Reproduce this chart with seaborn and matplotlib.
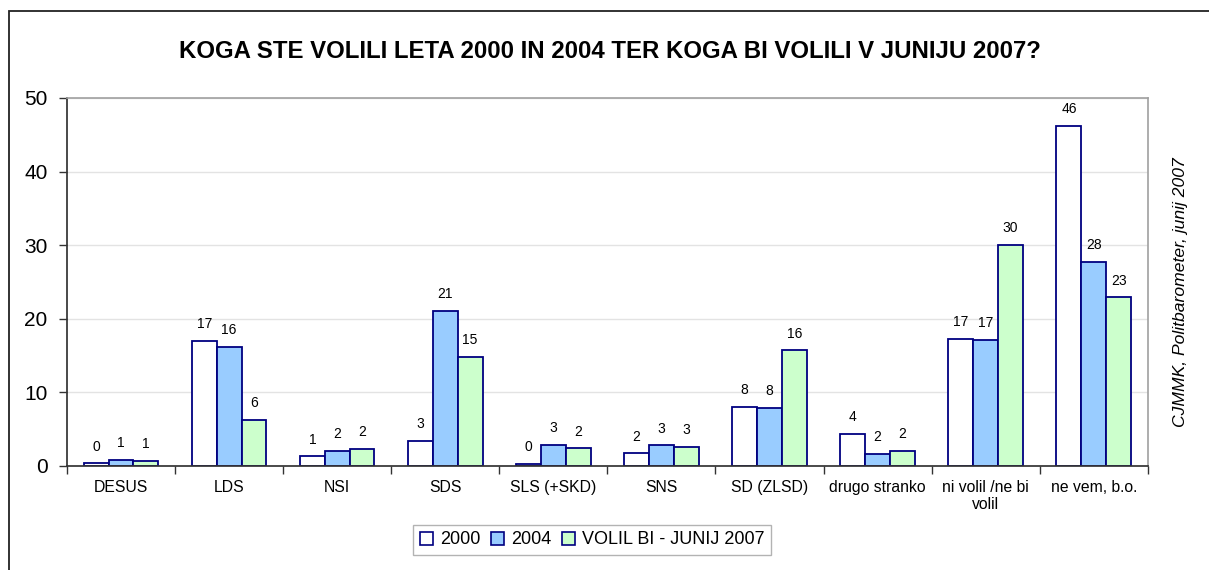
import matplotlib
matplotlib.use("Agg")
import matplotlib.pyplot as plt
import numpy as np
import pandas as pd
import seaborn as sns
from matplotlib.patches import Rectangle

categories = ["DESUS", "LDS", "NSI", "SDS", "SLS (+SKD)", "SNS", "SD (ZLSD)",
              "drugo stranko", "ni volil /ne bi\nvolil", "ne vem, b.o."]
series = ["2000", "2004", "VOLIL BI - JUNIJ 2007"]
v2000 = [0.35, 17.0, 1.3, 3.4, 0.3, 1.7, 8.0, 4.4, 17.3, 46.2]
v2004 = [0.8, 16.2, 2.1, 21.1, 2.9, 2.8, 7.9, 1.6, 17.1, 27.7]
v2007 = [0.65, 6.3, 2.3, 14.8, 2.4, 2.6, 15.7, 2.1, 30.0, 22.9]
colors = ["#FFFFFF", "#99CCFF", "#CCFFCC"]

df = pd.DataFrame({
    "stranka": categories * 3,
    "serija": np.repeat(series, len(categories)),
    "delez": v2000 + v2004 + v2007,
})

sns.set_theme(style="white")
plt.rcParams["font.family"] = ["Liberation Sans", "DejaVu Sans"]
plt.rcParams["text.color"] = "black"
plt.rcParams["xtick.color"] = "black"
plt.rcParams["ytick.color"] = "black"

fig = plt.figure(figsize=(12.09, 5.70), dpi=100)
ax = fig.add_axes([0.0554, 0.1825, 0.894, 0.6456])

sns.barplot(data=df, x="stranka", y="delez", hue="serija", hue_order=series,
            order=categories, palette=colors, width=0.69, edgecolor="#000080",
            linewidth=1.3, saturation=1, ax=ax, legend=True)

for cont in ax.containers:
    ax.bar_label(cont, fmt="{:.0f}", padding=7, fontsize=10, color="black")

ax.set_ylim(0, 50)
ax.set_xlim(-0.5, len(categories) - 0.5)
ax.set_yticks(range(0, 51, 10))
ax.yaxis.grid(True, color="#E3E3E3", linewidth=1)
ax.set_axisbelow(True)
ax.set_xlabel("")
ax.set_ylabel("")
ax.tick_params(axis="y", labelsize=15, length=6, width=1, color="#333333",
               left=True, direction="out", pad=8)
ax.tick_params(axis="x", which="major", length=0, labelsize=11.3, pad=10)
ax.set_xticks(np.arange(-0.5, len(categories)), minor=True)
ax.tick_params(axis="x", which="minor", length=6, width=1, color="#333333",
               bottom=True, direction="out")
for side in ["top", "right"]:
    ax.spines[side].set_color("#A0A0A0")
    ax.spines[side].set_linewidth(1.2)
ax.spines["left"].set_color("#333333")
ax.spines["bottom"].set_color("#333333")

ax.legend_.remove()
handles = [Rectangle((0, 0), 1, 1, facecolor=c, edgecolor="#000080", linewidth=1.2)
           for c in colors]
fig.legend(handles, series, loc="center", bbox_to_anchor=(592 / 1209, 1 - 540 / 570),
           ncol=3, frameon=True, fancybox=False, edgecolor="#A0A0A0", fontsize=13,
           handlelength=0.75, handleheight=0.75, handletextpad=0.35, columnspacing=0.6,
           borderpad=0.35)

fig.text(610 / 1209, 1 - 52 / 570,
         "KOGA STE VOLILI LETA 2000 IN 2004 TER KOGA BI VOLILI V JUNIJU 2007?",
         ha="center", va="center", fontsize=17.3, fontweight="bold")
fig.text(1181 / 1209, 1 - 292 / 570, "CJMMK, Politbarometer, junij 2007",
         rotation=90, ha="center", va="center", fontsize=12.6, style="italic")

fig.add_artist(Rectangle((9 / 1209, -0.1), 1.2, 1 - 11 / 570 + 0.1,
                         transform=fig.transFigure, fill=False,
                         edgecolor="#222222", linewidth=1.3))

fig.savefig("out.png", dpi=100)
